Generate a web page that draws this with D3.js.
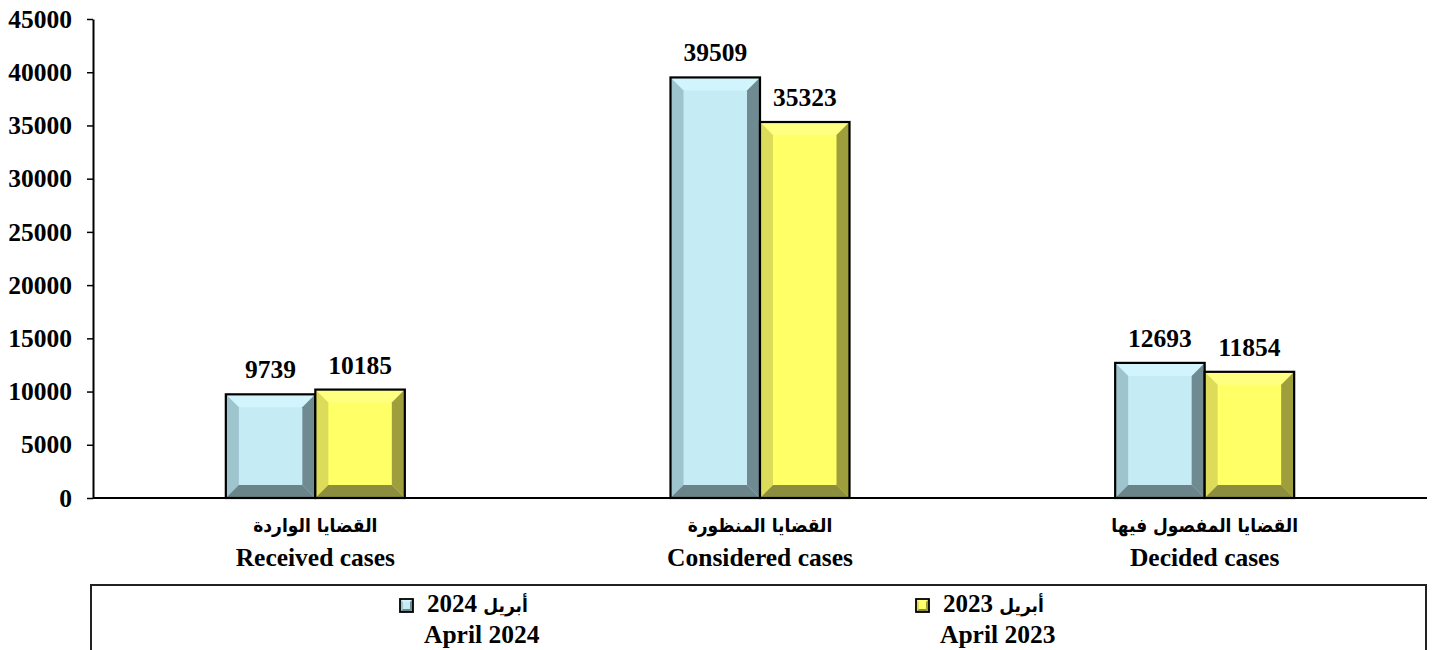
<!DOCTYPE html>
<html>
<head>
<meta charset="utf-8">
<script src="https://cdn.jsdelivr.net/npm/d3@7"></script>
<style>
  body { margin: 0; background: #fff; }
  text { font-family: "Liberation Serif", "Times New Roman", serif; font-weight: bold; fill: #000; }
  .ar { font-family: "DejaVu Sans Condensed", "DejaVu Sans", sans-serif; font-stretch: condensed; font-weight: bold; }
</style>
</head>
<body>
<div id="chart"></div>
<script>
var categoriesEn = ["Received cases", "Considered cases", "Decided cases"]
var categoriesAr = ["القضايا الواردة", "القضايا المنظورة", "القضايا المفصول فيها"]
var seriesEn = ["April 2024", "April 2023"]
var seriesAr = ["أبريل", "أبريل"]
var seriesYear = ["2024", "2023"]
var values2024 = [9739, 39509, 12693]
var values2023 = [10185, 35323, 11854]
var yTicks = [0, 5000, 10000, 15000, 20000, 25000, 30000, 35000, 40000, 45000]

var svg_width = 1432, svg_height = 650
var plot = { left: 93, right: 1427, top: 19, bottom: 498 }

// colour sets: face, top, left, right, bottom
var palettes = [
   { face: "#c5ebf5", top: "#d2f5fd", left: "#9ec4cd", right: "#6f8a91", bottom: "#6a8489" },
   { face: "#ffff66", top: "#ffff80", left: "#dcdc5a", right: "#9e9e3c", bottom: "#8d8d40" }
]

var svg = d3.select("#chart")
   .append("svg")
   .attr("width", svg_width)
   .attr("height", svg_height)

var xScale = d3.scaleBand()
   .domain(categoriesEn)
   .range([plot.left, plot.right])

var groupWidth = 179
var xInner = d3.scaleBand()
   .domain(seriesEn)
   .range([0, groupWidth])

var yScale = d3.scaleLinear()
   .domain([0, 45000])
   .range([plot.bottom, plot.top])

var data = []
categoriesEn.forEach((c, i) => {
   data.push({ cat: c, s: 0, value: values2024[i] })
   data.push({ cat: c, s: 1, value: values2023[i] })
})

// y axis
var yAxis = d3.axisLeft(yScale)
   .tickValues(yTicks)
   .tickFormat(d3.format("d"))
   .tickSize(6)
   .tickSizeOuter(0)
   .tickPadding(15)

var yg = svg.append("g")
   .attr("transform", `translate(${plot.left}, 0)`)
   .call(yAxis)
yg.select(".domain").attr("stroke", "#000").attr("stroke-width", 2)
yg.selectAll(".tick line").attr("stroke", "#000").attr("stroke-width", 1.5)
yg.selectAll(".tick text")
   .style("font-family", "'Liberation Serif', 'Times New Roman', serif")
   .style("font-weight", "bold")
   .style("font-size", "25.5px")
   .attr("fill", "#000")

function bevelBar(g, x0, y0, x1, y1, b, pal, sw) {
   var bb = Math.min(b, (x1 - x0) / 2, (y1 - y0) / 2)
   var xi0 = x0 + bb, xi1 = x1 - bb, yi0 = y0 + bb, yi1 = y1 - bb
   g.append("rect").attr("x", x0).attr("y", y0).attr("width", x1 - x0).attr("height", y1 - y0).attr("fill", pal.face)
   g.append("polygon").attr("points", [[x0, y0], [x1, y0], [xi1, yi0], [xi0, yi0]].join(" ")).attr("fill", pal.top)
   g.append("polygon").attr("points", [[x0, y0], [xi0, yi0], [xi0, yi1], [x0, y1]].join(" ")).attr("fill", pal.left)
   g.append("polygon").attr("points", [[x1, y0], [x1, y1], [xi1, yi1], [xi1, yi0]].join(" ")).attr("fill", pal.right)
   g.append("polygon").attr("points", [[x0, y1], [xi0, yi1], [xi1, yi1], [x1, y1]].join(" ")).attr("fill", pal.bottom)
   g.append("rect").attr("x", x0).attr("y", y0).attr("width", x1 - x0).attr("height", y1 - y0)
      .attr("fill", "none").attr("stroke", "#000").attr("stroke-width", sw)
}

// bars
var bars = svg.append("g")
data.forEach(d => {
   var x0 = xScale(d.cat) + xScale.bandwidth() / 2 - groupWidth / 2 + xInner(seriesEn[d.s])
   var x1 = x0 + xInner.bandwidth()
   bevelBar(bars, x0, yScale(d.value), x1, yScale(0), 13, palettes[d.s], 2.2)
   bars.append("text")
      .attr("x", (x0 + x1) / 2)
      .attr("y", yScale(d.value) - 16)
      .attr("text-anchor", "middle")
      .style("font-size", "25.5px")
      .text(d.value)
})

// baseline
svg.append("line")
   .attr("x1", plot.left).attr("x2", plot.right)
   .attr("y1", plot.bottom).attr("y2", plot.bottom)
   .attr("stroke", "#000").attr("stroke-width", 2)

// category labels
categoriesEn.forEach((c, i) => {
   var cx = xScale(c) + xScale.bandwidth() / 2
   svg.append("text").attr("class", "ar")
      .attr("x", cx).attr("y", 532)
      .attr("text-anchor", "middle")
      .attr("direction", "rtl")
      .style("font-size", "19px")
      .text(categoriesAr[i])
   svg.append("text")
      .attr("x", cx).attr("y", 566)
      .attr("text-anchor", "middle")
      .style("font-size", "25.5px")
      .text(c)
})

// legend
svg.append("rect")
   .attr("x", 91).attr("y", 585)
   .attr("width", 1335).attr("height", 80)
   .attr("fill", "none").attr("stroke", "#222").attr("stroke-width", 2)

var legendX = [400, 916]
seriesEn.forEach((s, i) => {
   var lx = legendX[i]
   var lg = svg.append("g")
   bevelBar(lg, lx, 599, lx + 13, 612, 3, palettes[i], 1.8)
   var t = lg.append("text").attr("x", lx + 27).attr("y", 612).style("font-size", "25px")
   t.append("tspan").text(seriesYear[i] + " ")
   t.append("tspan").attr("class", "ar").style("font-size", "19px").text(seriesAr[i])
   lg.append("text").attr("x", lx + 24).attr("y", 643).style("font-size", "25.5px").text(s)
})
</script>
</body>
</html>
